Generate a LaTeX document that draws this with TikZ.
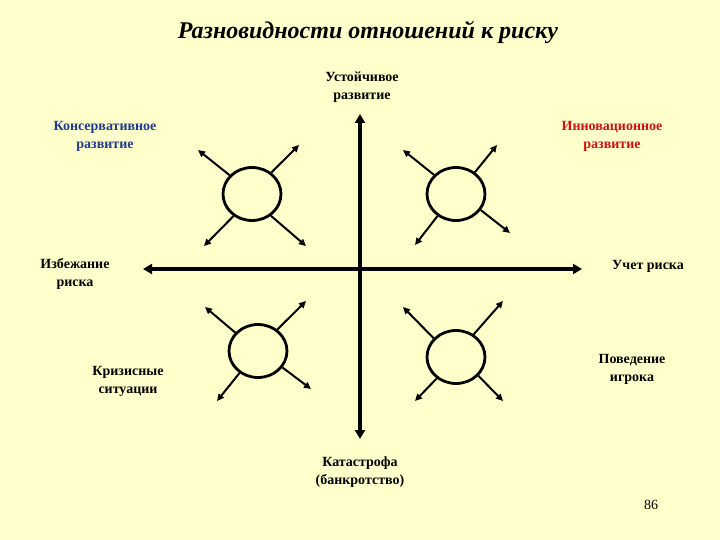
\documentclass[tikz,border=0pt]{standalone}
\usepackage{fontspec}
\setmainfont{Liberation Serif}
\usetikzlibrary{shapes.geometric,arrows.meta}
\definecolor{bgc}{HTML}{FFFFCC}
\definecolor{bluec}{HTML}{1F3A88}
\definecolor{redc}{HTML}{CC1111}
\begin{document}
\begin{tikzpicture}[x=1pt,y=-1pt,
  lbl/.style={font=\fontsize{14}{18}\selectfont\bfseries, align=center, inner sep=0pt},
  ring/.style={draw, line width=2.8pt, ellipse, minimum width=58pt, minimum height=53pt, inner sep=0pt},
  ray/.style={line width=2pt, -{Triangle[length=7pt,width=6.5pt]}},
  axisline/.style={line width=4pt, {Triangle[length=9pt,width=10pt]}-{Triangle[length=9pt,width=10pt]}}]
\fill[bgc] (0,0) rectangle (720,540);
\useasboundingbox (0,0) rectangle (720,540);
% title
\node[font=\fontsize{24}{28}\selectfont\bfseries\itshape, inner sep=0pt] (title) at (368,32) {Разновидности отношений к риску};
% labels
\node[lbl] (ust) at (362,87) {Устойчивое\\развитие};
\node[lbl, text=bluec] (kons) at (105,136) {Консервативное\\развитие};
\node[lbl, text=redc] (innov) at (612,136) {Инновационное\\развитие};
\node[lbl] (izb) at (75,274) {Избежание\\риска};
\node[lbl] (uchet) at (648,266) {Учет риска};
\node[lbl] (kriz) at (128,381) {Кризисные\\ситуации};
\node[lbl] (pov) at (632,369) {Поведение\\игрока};
\node[lbl] (kat) at (360,472) {Катастрофа\\(банкротство)};
\node[font=\fontsize{14}{16}\selectfont, inner sep=0pt] (page) at (651,505) {86};
% axes
\coordinate (atop) at (360,114);
\coordinate (abot) at (360,439);
\coordinate (aleft) at (143,269);
\coordinate (aright) at (582,269);
\draw[axisline] (atop) -- (abot);
\draw[axisline] (aleft) -- (aright);
% circles
\node[ring] (tl) at (252,194) {};
\node[ring] (tr) at (456,194) {};
\node[ring] (bl) at (258,351) {};
\node[ring] (br) at (456,357) {};
% tips
\coordinate (tlnw) at (198,150); \coordinate (tlne) at (299,145);
\coordinate (tlsw) at (204,246); \coordinate (tlse) at (306,246);
\coordinate (trnw) at (403,150); \coordinate (trne) at (497,145);
\coordinate (trsw) at (415,245); \coordinate (trse) at (510,233);
\coordinate (blnw) at (205,307); \coordinate (blne) at (306,301);
\coordinate (blsw) at (217,401); \coordinate (blse) at (311,389);
\coordinate (brnw) at (403,307); \coordinate (brne) at (503,301);
\coordinate (brsw) at (415,401); \coordinate (brse) at (503,401);
% rays
\draw[ray] (tl.140) -- (tlnw); \draw[ray] (tl.48) -- (tlne);
\draw[ray] (tl.230) -- (tlsw); \draw[ray] (tl.311) -- (tlse);
\draw[ray] (tr.139) -- (trnw); \draw[ray] (tr.49) -- (trne);
\draw[ray] (tr.230) -- (trsw); \draw[ray] (tr.327) -- (trse);
\draw[ray] (bl.141) -- (blnw); \draw[ray] (bl.48) -- (blne);
\draw[ray] (bl.230) -- (blsw); \draw[ray] (bl.326) -- (blse);
\draw[ray] (br.140) -- (brnw); \draw[ray] (br.52) -- (brne);
\draw[ray] (br.228) -- (brsw); \draw[ray] (br.320) -- (brse);
\end{tikzpicture}
\end{document}
